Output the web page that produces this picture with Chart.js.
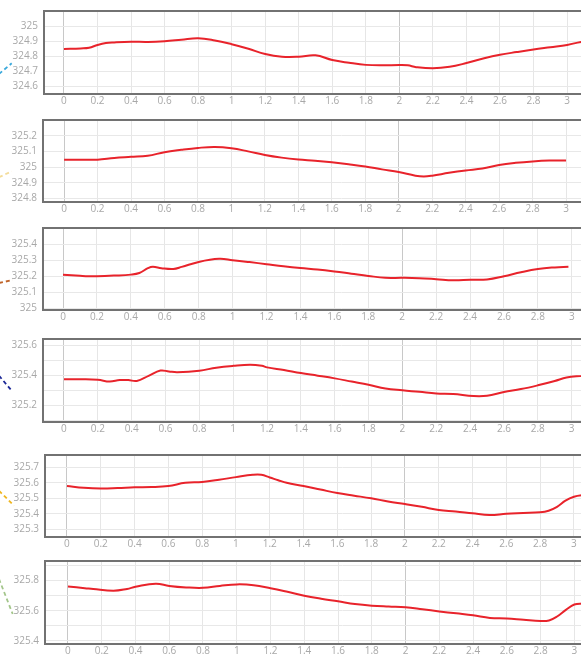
<!DOCTYPE html>
<html>
<head>
<meta charset="utf-8">
<script src="https://cdn.jsdelivr.net/npm/chart.js@4/dist/chart.umd.min.js"></script>
<style>
  html, body { margin: 0; padding: 0; background: #fff; }
  #wrap { position: relative; width: 581px; height: 657px; overflow: hidden; }
  .panel { position: absolute; left: 0; }
</style>
</head>
<body>
<div id="wrap"></div>
<script>
// ---- data: time axis and six level traces ----
const xTickValues = [0, 0.2, 0.4, 0.6, 0.8, 1, 1.2, 1.4, 1.6, 1.8, 2, 2.2, 2.4, 2.6, 2.8, 3];
const xTickLabels = ['0', '0.2', '0.4', '0.6', '0.8', '1', '1.2', '1.4', '1.6', '1.8', '2', '2.2', '2.4', '2.6', '2.8', '3'];

const t1 = [0, 0.1, 0.15, 0.2, 0.25, 0.3, 0.4, 0.5, 0.6, 0.7, 0.8, 0.9, 1.0, 1.1, 1.2, 1.3, 1.4, 1.5, 1.6, 1.7, 1.8, 1.9, 2.0, 2.05, 2.1, 2.2, 2.3, 2.4, 2.5, 2.6, 2.7, 2.8, 2.9, 3.0, 3.1];
const level1 = [324.848, 324.852, 324.856, 324.875, 324.888, 324.892, 324.896, 324.895, 324.9, 324.91, 324.92, 324.905, 324.88, 324.85, 324.815, 324.797, 324.797, 324.806, 324.775, 324.757, 324.743, 324.74, 324.742, 324.74, 324.728, 324.72, 324.73, 324.755, 324.785, 324.81, 324.828, 324.845, 324.86, 324.875, 324.9];

const t2 = [0, 0.1, 0.2, 0.3, 0.4, 0.5, 0.6, 0.7, 0.8, 0.9, 1.0, 1.1, 1.2, 1.3, 1.4, 1.5, 1.6, 1.7, 1.8, 1.9, 2.0, 2.1, 2.15, 2.2, 2.3, 2.4, 2.5, 2.6, 2.7, 2.8, 2.9, 3.0];
const level2 = [325.047, 325.047, 325.047, 325.058, 325.065, 325.072, 325.095, 325.11, 325.122, 325.128, 325.12, 325.1, 325.077, 325.06, 325.048, 325.04, 325.03, 325.018, 325.004, 324.985, 324.968, 324.945, 324.94, 324.945, 324.963, 324.978, 324.99, 325.013, 325.027, 325.036, 325.041, 325.041];

const t3 = [0, 0.1, 0.15, 0.2, 0.3, 0.4, 0.45, 0.5, 0.53, 0.58, 0.65, 0.7, 0.8, 0.92, 1.0, 1.1, 1.2, 1.3, 1.4, 1.5, 1.6, 1.7, 1.8, 1.9, 2.0, 2.1, 2.2, 2.3, 2.4, 2.5, 2.6, 2.7, 2.8, 2.9, 2.98];
const level3 = [325.21, 325.203, 325.2, 325.2, 325.204, 325.21, 325.22, 325.25, 325.259, 325.25, 325.245, 325.258, 325.289, 325.308, 325.3, 325.288, 325.275, 325.262, 325.251, 325.242, 325.23, 325.216, 325.202, 325.19, 325.19, 325.188, 325.182, 325.175, 325.178, 325.18, 325.2, 325.225, 325.245, 325.255, 325.259];

const t4 = [0, 0.1, 0.2, 0.27, 0.33, 0.38, 0.43, 0.5, 0.57, 0.62, 0.67, 0.8, 0.9, 1.0, 1.1, 1.17, 1.2, 1.3, 1.4, 1.5, 1.6, 1.7, 1.8, 1.9, 2.0, 2.1, 2.2, 2.3, 2.42, 2.5, 2.6, 2.7, 2.8, 2.9, 2.97, 3.05, 3.1];
const level4 = [325.373, 325.373, 325.37, 325.358, 325.368, 325.368, 325.362, 325.396, 325.431, 325.425, 325.42, 325.43, 325.45, 325.462, 325.469, 325.462, 325.452, 325.434, 325.414, 325.397, 325.379, 325.358, 325.337, 325.312, 325.3, 325.29, 325.279, 325.275, 325.262, 325.264, 325.289, 325.308, 325.333, 325.362, 325.385, 325.394, 325.396];

const t5 = [0, 0.1, 0.2, 0.3, 0.4, 0.5, 0.6, 0.7, 0.8, 0.9, 1.0, 1.1, 1.15, 1.2, 1.25, 1.3, 1.4, 1.5, 1.6, 1.7, 1.8, 1.9, 2.0, 2.1, 2.2, 2.3, 2.4, 2.5, 2.6, 2.7, 2.8, 2.85, 2.9, 2.95, 3.0, 3.05, 3.1];
const level5 = [325.58, 325.568, 325.563, 325.566, 325.571, 325.573, 325.58, 325.6, 325.606, 325.62, 325.637, 325.652, 325.652, 325.635, 325.617, 325.6, 325.58, 325.557, 325.534, 325.517, 325.5, 325.48, 325.463, 325.445, 325.425, 325.415, 325.403, 325.392, 325.4, 325.405, 325.41, 325.42, 325.445, 325.485, 325.51, 325.52, 325.522];

const t6 = [0, 0.1, 0.15, 0.27, 0.35, 0.4, 0.52, 0.6, 0.7, 0.8, 0.9, 1.0, 1.1, 1.2, 1.3, 1.4, 1.5, 1.6, 1.7, 1.8, 1.9, 2.0, 2.1, 2.2, 2.3, 2.4, 2.5, 2.6, 2.7, 2.8, 2.85, 2.9, 2.95, 3.0, 3.05, 3.1];
const level6 = [325.761, 325.75, 325.744, 325.733, 325.745, 325.759, 325.78, 325.765, 325.755, 325.752, 325.765, 325.775, 325.77, 325.75, 325.726, 325.7, 325.68, 325.663, 325.645, 325.634, 325.628, 325.623, 325.61, 325.596, 325.583, 325.57, 325.553, 325.549, 325.54, 325.532, 325.536, 325.564, 325.606, 325.642, 325.648, 325.65];

// y tick values (grid) and the subset that carries a label
const yTicks1 = [324.6, 324.7, 324.8, 324.9, 325];
const yTicks2 = [324.8, 324.9, 325, 325.1, 325.2];
const yTicks3 = [325, 325.1, 325.2, 325.3, 325.4];
const yTicks4 = [325.1, 325.2, 325.3, 325.4, 325.5, 325.6];
const yTicks5 = [325.3, 325.4, 325.5, 325.6, 325.7];
const yTicks6 = [325.4, 325.5, 325.6, 325.7, 325.8, 325.9];
const yLabels1 = ['324.6', '324.7', '324.8', '324.9', '325'];
const yLabels2 = ['324.8', '324.9', '325', '325.1', '325.2'];
const yLabels3 = ['325', '325.1', '325.2', '325.3', '325.4'];
const yLabels4 = ['', '325.2', '', '325.4', '', '325.6'];
const yLabels5 = ['325.3', '325.4', '325.5', '325.6', '325.7'];
const yLabels6 = ['325.4', '', '325.6', '', '325.8', ''];

// ---- panel layout ----
const CANVAS_W = 640, PAD_TOP = 8, XAXIS_H = 16;
const panels = [
  { t: t1, v: level1, yt: yTicks1, yl: yLabels1, yMin: 324.55, yMax: 325.1, xMin: -0.119, xMax: 3.435, top: 7,   h: 87, left: 44, link: { color: '#3aa9dc', y0: 63,   x1: 11.7, y1: 52.3 } },
  { t: t2, v: level2, yt: yTicks2, yl: yLabels2, yMin: 324.777, yMax: 325.3, xMin: -0.126, xMax: 3.442, top: 116, h: 86, left: 43, link: { color: '#f3dc9a', y0: 57.3, x1: 11.7, y1: 51.3 } },
  { t: t3, v: level3, yt: yTicks3, yl: yLabels3, yMin: 324.99, yMax: 325.5, xMin: -0.118, xMax: 3.402, top: 224, h: 86, left: 43, link: { color: '#c0642a', y0: 55,   x1: 12.7, y1: 52 } },
  { t: t4, v: level4, yt: yTicks4, yl: yLabels4, yMin: 325.09, yMax: 325.64, xMin: -0.124, xMax: 3.404, top: 335, h: 87, left: 43, link: { color: '#1b2796', y0: 36.7, x1: 11.7, y1: 51.7 } },
  { t: t5, v: level5, yt: yTicks5, yl: yLabels5, yMin: 325.25, yMax: 325.78, xMin: -0.130, xMax: 3.391, top: 451, h: 86, left: 45, link: { color: '#efb61f', y0: 35.7, x1: 14,   y1: 50.7 } },
  { t: t6, v: level6, yt: yTicks6, yl: yLabels6, yMin: 325.38, yMax: 325.93, xMin: -0.136, xMax: 3.389, top: 557, h: 87, left: 45, link: { color: '#a3c58a', y0: 18,   x1: 12.7, y1: 53 } }
];

// frame on top/left/bottom and the dashed lead-in at the left edge
const framePlugin = {
  id: 'panelFrame',
  afterDraw(chart, args, opts) {
    const { ctx, chartArea: a } = chart;
    ctx.save();
    ctx.strokeStyle = '#727272';
    ctx.lineWidth = 2;
    ctx.beginPath();
    ctx.moveTo(chart.width, a.top);
    ctx.lineTo(a.left, a.top);
    ctx.lineTo(a.left, a.bottom);
    ctx.lineTo(chart.width, a.bottom);
    ctx.stroke();
    const l = opts.link;
    if (l) {
      ctx.strokeStyle = l.color;
      ctx.lineWidth = 1.8;
      ctx.setLineDash([4, 3]);
      ctx.beginPath();
      ctx.moveTo(-1, a.top + l.y0);
      ctx.lineTo(l.x1, a.top + l.y1);
      ctx.stroke();
    }
    ctx.restore();
  }
};

const tickFont = { family: "'Open Sans', 'DejaVu Sans', sans-serif", size: 10 };
const wrap = document.getElementById('wrap');

panels.forEach((p) => {
  const div = document.createElement('div');
  div.className = 'panel';
  div.style.top = (p.top - PAD_TOP) + 'px';
  const canvas = document.createElement('canvas');
  canvas.width = CANVAS_W;
  canvas.height = PAD_TOP + p.h + XAXIS_H;
  canvas.style.width = CANVAS_W + 'px';
  canvas.style.height = canvas.height + 'px';
  div.appendChild(canvas);
  wrap.appendChild(div);

  new Chart(canvas, {
    type: 'line',
    data: {
      datasets: [{
        data: p.t.map((x, i) => ({ x: x, y: p.v[i] })),
        borderColor: '#e8232b',
        borderWidth: 2,
        pointRadius: 0,
        fill: false,
        tension: 0.4
      }]
    },
    options: {
      responsive: false,
      animation: false,
      devicePixelRatio: 1,
      layout: { padding: { top: PAD_TOP, left: 0, right: 0, bottom: 0 } },
      plugins: { legend: { display: false }, tooltip: { enabled: false }, panelFrame: { link: p.link } },
      scales: {
        x: {
          type: 'linear',
          min: p.xMin,
          max: p.xMax,
          afterBuildTicks: (s) => { s.ticks = xTickValues.map((v) => ({ value: v })); },
          afterFit: (s) => { s.height = XAXIS_H; },
          border: { display: false },
          grid: {
            drawTicks: false,
            color: (c) => (c.tick && (c.tick.value === 0 || c.tick.value === 2)) ? '#c8c8c8' : '#e6e6e6',
            lineWidth: 1
          },
          ticks: {
            padding: 1,
            maxRotation: 0,
            autoSkip: false,
            color: '#a8a8a8',
            font: tickFont,
            callback: (v) => { const i = xTickValues.indexOf(v); return i >= 0 ? xTickLabels[i] : ''; }
          }
        },
        y: {
          min: p.yMin,
          max: p.yMax,
          afterBuildTicks: (s) => { s.ticks = p.yt.map((v) => ({ value: v })); },
          afterFit: (s) => { s.width = p.left; },
          border: { display: false },
          grid: { drawTicks: false, color: '#e8e8e8', lineWidth: 1 },
          ticks: {
            padding: 6,
            autoSkip: false,
            color: '#a8a8a8',
            font: tickFont,
            callback: (v) => { const i = p.yt.indexOf(v); return i >= 0 ? p.yl[i] : ''; }
          }
        }
      }
    },
    plugins: [framePlugin]
  });
});
</script>
</body>
</html>
